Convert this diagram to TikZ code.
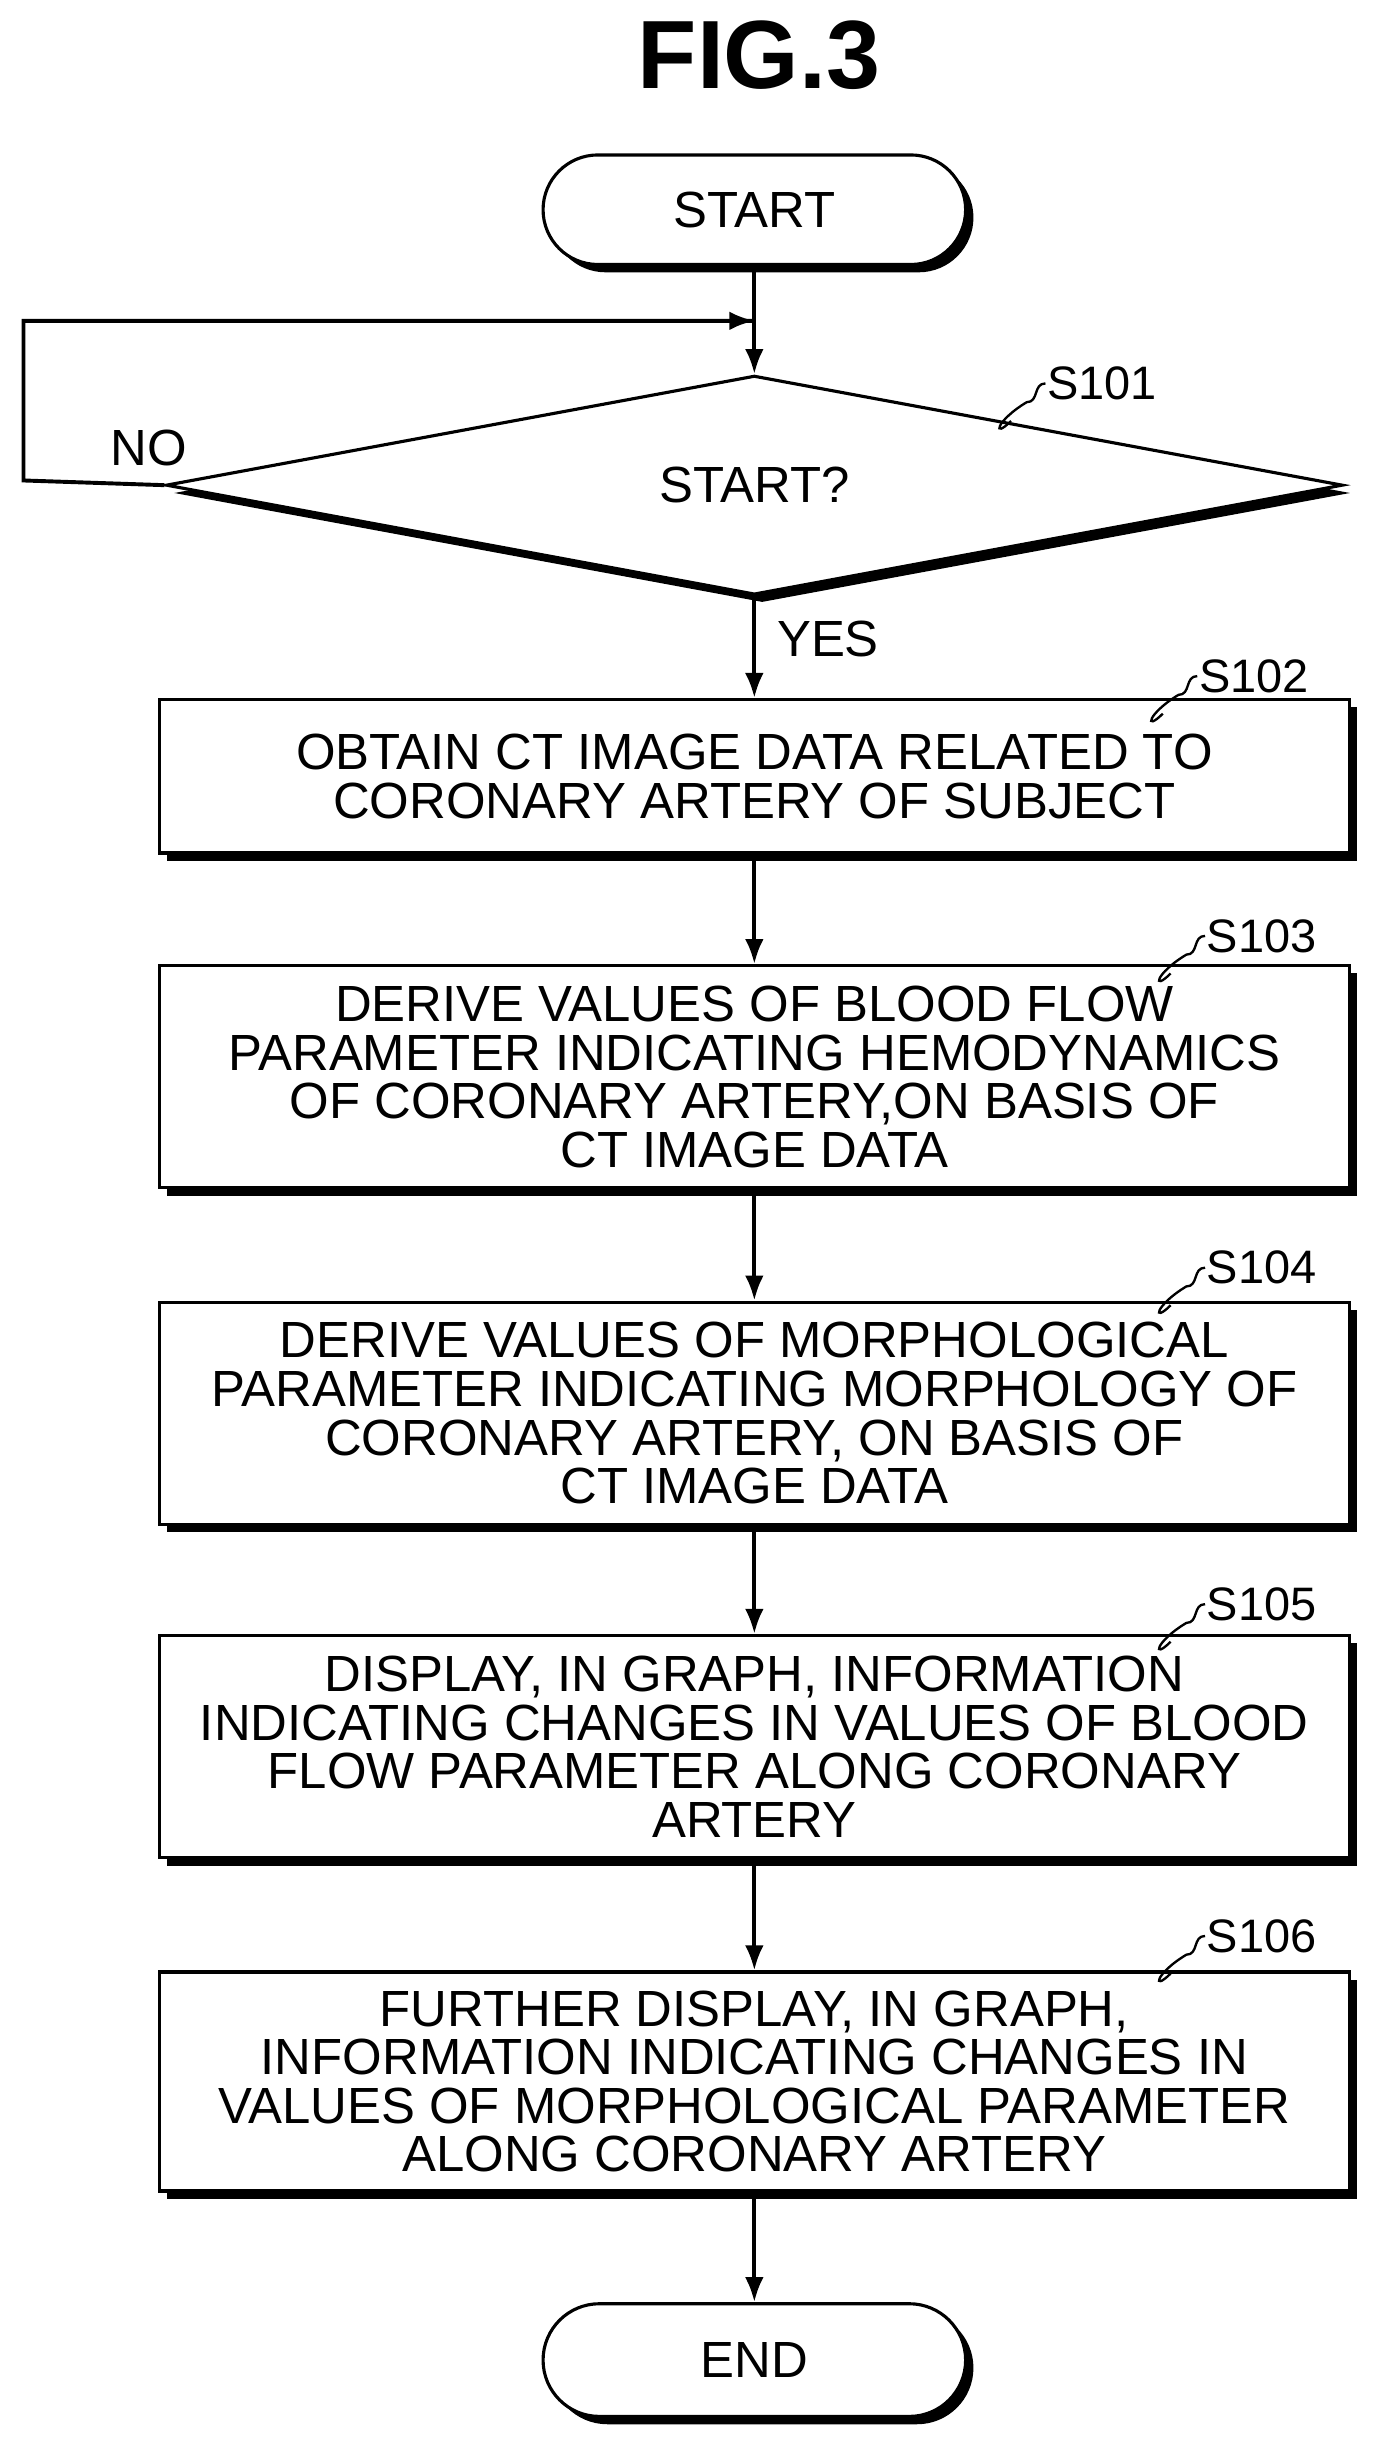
\documentclass[tikz,border=0pt]{standalone}
\usepackage{fontspec}
\setmainfont{Liberation Sans}
\usetikzlibrary{shapes.geometric,shapes.misc,shadows,arrows.meta}
\begin{document}
\begin{tikzpicture}[x=1pt,y=-1pt,
  sh/.style={general shadow={fill=black,shadow xshift=5pt,shadow yshift=-5pt}},
  box/.style={draw,line width=2pt,fill=white,sh,minimum width=760pt,inner sep=0pt,align=center,font=\fontsize{32.5}{31}\selectfont},
  term/.style={draw,line width=2pt,fill=white,sh,rounded rectangle,minimum width=270pt,inner sep=0pt,font=\fontsize{32.5}{31}\selectfont},
  lab/.style={font=\fontsize{32.5}{31}\selectfont},
  slab/.style={font=\fontsize{30}{31}\selectfont},
  arr/.style={line width=2.5pt,-{Latex[length=16pt,width=12pt]}},
  sq/.style={line width=1.5pt}]
\useasboundingbox (0,0) rectangle (880,1561);
\node[font=\fontsize{62}{64}\selectfont\bfseries] (title) at (485,35) {FIG.3};
\node[term,minimum height=70pt] (start) at (482,134) {START};
\node[draw,line width=2pt,fill=white,sh,diamond,minimum width=752pt,minimum height=140pt,inner sep=0pt,aspect=5.37,font=\fontsize{32.5}{31}\selectfont] (dec) at (482,310) {START?};
\node[box,minimum height=98pt] (b1) at (482,496) {OBTAIN CT IMAGE DATA RELATED TO\\CORONARY ARTERY OF SUBJECT};
\node[box,minimum height=142pt] (b2) at (482,688) {DERIVE VALUES OF BLOOD FLOW\\PARAMETER INDICATING HEMODYNAMICS\\OF CORONARY ARTERY,ON BASIS OF\\CT IMAGE DATA};
\node[box,minimum height=142pt] (b3) at (482,903) {DERIVE VALUES OF MORPHOLOGICAL\\PARAMETER INDICATING MORPHOLOGY OF\\CORONARY ARTERY, ON BASIS OF\\CT IMAGE DATA};
\node[box,minimum height=142pt] (b4) at (482,1116) {DISPLAY, IN GRAPH, INFORMATION\\INDICATING CHANGES IN VALUES OF BLOOD\\FLOW PARAMETER ALONG CORONARY\\ARTERY};
\node[box,minimum height=140pt] (b5) at (482,1330) {FURTHER DISPLAY, IN GRAPH,\\INFORMATION INDICATING CHANGES IN\\VALUES OF MORPHOLOGICAL PARAMETER\\ALONG CORONARY ARTERY};
\node[term,minimum height=72pt] (end) at (482,1508) {END};
\draw[arr] (start.south) -- (dec.north);
\coordinate (l1) at (15,307);
\coordinate (l2) at (15,205);
\coordinate (l3) at (dec.north|-l2);
\draw[line width=2.5pt] (dec.west) -- (l1) -- (l2) -- (l3);
\draw[arr] (l2) -- (l3);
\node[lab] (no) at (95,286) {NO};
\draw[arr] (dec.south) -- (b1.north);
\node[lab,anchor=west] (yes) at (493,408) {YES};
\draw[arr] (b1) -- (b2);
\draw[arr] (b2) -- (b3);
\draw[arr] (b3) -- (b4);
\draw[arr] (b4) -- (b5);
\draw[arr] (b5) -- (end);
\foreach \n/\t/\x/\y in {s1/S101/668/245,s2/S102/765/432,s3/S103/770/598,s4/S104/770/810,s5/S105/770/1025,s6/S106/770/1237}{
  \node[slab,anchor=west,inner sep=1pt] (\n) at (\x,\y) {\t};
  \draw[sq] (\n.west) .. controls +(-8,0) and +(8,0) .. +(-12,12) .. controls +(-20,12) and +(-12,12) .. +(-22,24);
}
\end{tikzpicture}
\end{document}
